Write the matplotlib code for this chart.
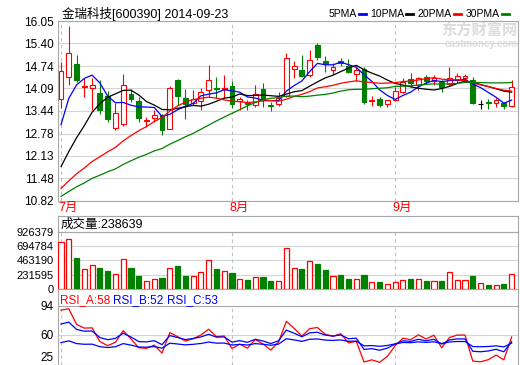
import numpy as np
import pandas as pd
import matplotlib
matplotlib.use("Agg")
import matplotlib.pyplot as plt
from matplotlib.lines import Line2D
from matplotlib.transforms import blended_transform_factory, ScaledTranslation

plt.rcParams['font.family'] = ['Liberation Sans', 'Noto Sans CJK SC']

# daily candles 2014-07-01 .. 2014-09-23
opens = [13.78, 14.43, 14.80, 14.13, 14.10, 13.95, 13.87, 12.93, 13.05, 13.93,
         13.72, 13.14, 13.22, 13.33, 12.91, 14.33, 13.82, 13.67, 13.72, 14.04,
         14.11, 14.08, 14.16, 13.72, 13.70, 13.60, 14.06, 13.61, 13.63, 13.88,
         14.65, 14.64, 14.48, 15.36, 14.88, 14.62, 14.88, 14.74, 14.51, 14.65,
         13.73, 13.78, 13.65, 13.75, 13.98, 14.36, 14.18, 14.41, 14.30, 14.28,
         14.22, 14.33, 14.38, 14.35, 13.63, 13.70, 13.67, 13.66, 13.58]
closes = [14.60, 15.11, 14.35, 14.15, 14.18, 13.46, 13.20, 13.39, 14.19, 13.77,
          13.22, 13.18, 13.33, 12.88, 14.09, 13.88, 13.65, 13.78, 13.98, 14.33,
          14.07, 14.10, 13.63, 13.78, 13.63, 13.92, 13.78, 13.57, 13.80, 14.98,
          14.74, 14.45, 14.92, 15.00, 14.79, 14.72, 14.83, 14.57, 14.62, 13.70,
          13.76, 13.61, 13.75, 14.03, 14.28, 14.24, 14.39, 14.30, 14.40, 14.12,
          14.38, 14.45, 14.45, 13.67, 13.63, 13.67, 13.75, 13.59, 14.12]
highs = [14.87, 15.90, 15.06, 14.40, 14.38, 14.33, 14.01, 13.67, 14.50, 14.07,
         13.85, 13.25, 13.46, 13.36, 14.16, 14.37, 14.06, 14.04, 14.09, 14.77,
         14.43, 14.48, 14.30, 13.85, 13.75, 14.19, 14.24, 13.70, 14.00, 15.13,
         14.90, 15.05, 15.22, 15.42, 15.04, 14.82, 14.97, 14.95, 14.72, 14.70,
         13.86, 13.85, 13.75, 14.12, 14.40, 14.55, 14.42, 14.48, 14.47, 14.33,
         14.70, 14.55, 14.52, 14.42, 13.75, 13.78, 13.82, 13.70, 14.33]
lows = [13.53, 14.19, 14.28, 13.85, 13.46, 13.36, 13.11, 12.88, 13.00, 13.70,
        13.12, 12.98, 13.12, 12.75, 12.90, 13.60, 13.20, 13.60, 13.46, 13.85,
        13.80, 13.82, 13.51, 13.46, 13.46, 13.56, 13.56, 13.44, 13.58, 13.85,
        14.40, 14.43, 14.43, 14.93, 14.57, 14.51, 14.75, 14.55, 14.30, 13.65,
        13.58, 13.56, 13.54, 13.74, 13.95, 14.14, 14.05, 14.23, 14.20, 13.99,
        14.16, 14.25, 14.28, 13.65, 13.50, 13.50, 13.55, 13.50, 13.56]
volumes = [766000, 809000, 511000, 330000, 394000, 335000, 288000, 250000, 489000, 335000,
           208000, 122000, 170000, 176000, 346000, 367000, 208000, 218000, 282000, 474000,
           319000, 288000, 255000, 170000, 144000, 202000, 192000, 128000, 138000, 665000,
           346000, 319000, 458000, 399000, 303000, 218000, 224000, 160000, 170000, 224000,
           106000, 112000, 75000, 112000, 154000, 160000, 170000, 128000, 128000, 128000,
           272000, 144000, 144000, 208000, 96000, 64000, 59000, 80000, 238639]
# June closes (not shown) - estimated so the averages / RSI start where the chart does
prior_closes = [10.80, 10.30, 10.75, 10.20, 10.70, 10.25, 10.85, 10.30, 10.60, 10.15,
                10.70, 10.25, 10.80, 10.35, 10.75, 10.30, 10.85, 10.40, 10.70, 10.40,
                10.75, 10.35, 10.60, 10.30, 11.00, 11.30, 12.40, 13.20, 13.70]

month_labels = ["7月", "8月", "9月"]
month_start = [0, 22, 43]

price_ticks = [10.82, 11.48, 12.13, 12.78, 13.44, 14.09, 14.74, 15.40, 16.05]
vol_ticks = [0, 231595, 463190, 694784, 926379]
rsi_ticks = [25, 60, 94]
rsi_last = [58, 52, 53]

ma_periods = [5, 10, 20, 30]
ma_colors = ["#0000FF", "#000000", "#FF0000", "#008000"]
rsi_periods = [6, 12, 24]
rsi_colors = ["#FF0000", "#0000FF", "#0000FF"]

RED = "#FF0000"
GREEN = "#008000"
GRID = "#D4D4D4"
FRAME = "#A8A8A8"

W, H = 520, 365
fig = plt.figure(figsize=(W / 100, H / 100), dpi=100)


def px_axes(l, t, r, b):
    return fig.add_axes([l / W, 1 - b / H, (r - l) / W, (b - t) / H])


def style(ax):
    for s in ax.spines.values():
        s.set_color(FRAME)
        s.set_linewidth(0.8)
    ax.set_xticks([])
    ax.tick_params(axis="y", length=0, pad=3, labelsize=8.5)
    ax.set_xlim(-0.39, 58.82)


x = np.arange(len(closes))
o = np.array(opens)
c = np.array(closes)
hi = np.array(highs)
lo = np.array(lows)
rise = c > o
fall = c < o
flat = c == o

# ---- price panel
ax = px_axes(58, 21, 518, 201)
style(ax)
ax.set_ylim(price_ticks[0], price_ticks[-1])
ax.set_yticks(price_ticks, labels=[f"{v:.2f}" for v in price_ticks])
ax.yaxis.grid(True, color=GRID, lw=0.8)
ax.set_axisbelow(True)
for m in month_start:
    ax.axvline(m, color="#C0C0C0", ls=(0, (3, 3)), lw=0.8, zorder=1)

wick_col = np.where(rise, RED, np.where(fall, GREEN, "black"))
ax.vlines(x, lo, hi, colors=wick_col, lw=0.8, zorder=2)
ax.bar(x[rise], (c - o)[rise], bottom=o[rise], width=0.62,
       facecolor="white", edgecolor=RED, lw=0.8, zorder=3)
ax.bar(x[fall], (o - c)[fall], bottom=c[fall], width=0.62,
       facecolor=GREEN, edgecolor=GREEN, lw=0.8, zorder=3)
ax.hlines(c[flat], x[flat] - 0.31, x[flat] + 0.31, colors="black", lw=0.8, zorder=3)

all_close = pd.Series(prior_closes + closes)
n0 = len(prior_closes)
for p, col in zip(ma_periods, ma_colors):
    ma = all_close.rolling(p).mean().to_numpy()[n0:]
    ax.plot(x, ma, color=col, lw=0.9, zorder=4)

tr = blended_transform_factory(ax.transData, ax.transAxes)
for m, lab in zip(month_start, month_labels):
    ax.text(m - 0.3, -0.04, lab, transform=tr, color=RED, fontsize=9,
            ha="left", va="center")

# ---- title / legend
fig.text(62 / W, 1 - 14 / H, "金瑞科技[600390] 2014-09-23", fontsize=9,
         ha="left", va="center")
dash_x = [359, 406, 454, 502]
for p, col, dx in zip(ma_periods, ma_colors, dash_x):
    fig.text((dx - 2) / W, 1 - 14 / H, f"{p}PMA", fontsize=7.5,
             ha="right", va="center")
    fig.add_artist(Line2D([dx / W, (dx + 7) / W], [1 - 14 / H, 1 - 14 / H],
                          color=col, lw=2))

# watermark
fig.text(517 / W, 1 - 30 / H, "东方财富网", fontsize=11, fontweight="bold",
         color="#DCDCDC", ha="right", va="center", zorder=0)
fig.text(517 / W, 1 - 44 / H, "eastmoney.com", fontsize=7, fontweight="bold",
         color="#DCDCDC", ha="right", va="center", zorder=0)

# ---- volume panel
axh = px_axes(58, 216, 518, 232)
for s in axh.spines.values():
    s.set_color(FRAME)
    s.set_linewidth(0.8)
axh.set_xticks([])
axh.set_yticks([])
axh.text(0.005, 0.45, f"成交量:{volumes[-1]}", fontsize=9, ha="left",
         va="center", transform=axh.transAxes)

axv = px_axes(58, 232, 518, 289)
style(axv)
axv.tick_params(axis="y", labelsize=8)
axv.set_ylim(vol_ticks[0], vol_ticks[-1])
axv.set_yticks(vol_ticks, labels=[str(v) for v in vol_ticks])
axv.yaxis.grid(True, color=GRID, lw=0.8)
axv.set_axisbelow(True)
for m in month_start:
    axv.axvline(m, color="#C0C0C0", ls=(0, (3, 3)), lw=0.8, zorder=1)
v = np.array(volumes)
vup = c >= o
axv.bar(x[vup], v[vup], width=0.66, facecolor="white", edgecolor=RED, lw=0.9, zorder=3)
axv.bar(x[~vup], v[~vup], width=0.66, facecolor=GREEN, edgecolor=GREEN, lw=0.9, zorder=3)

# ---- RSI panel
axr = px_axes(58, 305.5, 518, 364.5)
style(axr)
axr.set_ylim(rsi_ticks[0], rsi_ticks[-1])
axr.set_yticks(rsi_ticks, labels=[str(v) for v in rsi_ticks])
axr.axhline(60, color=GRID, lw=0.8, zorder=1)
for m in month_start:
    axr.axvline(m, color="#C0C0C0", ls=(0, (3, 3)), lw=0.8, zorder=1)
# lift the bottom label so it stays inside the picture
lab0 = axr.get_yticklabels()[0]
lab0.set_transform(lab0.get_transform() + ScaledTranslation(0, 5.5 / 72, fig.dpi_scale_trans))

diff = all_close.diff()
gain = diff.clip(lower=0)
for p, col in zip(rsi_periods, rsi_colors):
    rsi = (gain.ewm(alpha=1 / p, adjust=False).mean()
           / diff.abs().ewm(alpha=1 / p, adjust=False).mean() * 100)
    axr.plot(x, rsi.to_numpy()[n0:], color=col, lw=0.9, zorder=3)

rsi_names = ["RSI_A", "RSI_B", "RSI_C"]
rsi_x = [60, 113, 167]
for name, val, col, rx in zip(rsi_names, rsi_last, rsi_colors, rsi_x):
    fig.text(rx / W, 1 - 300 / H, f"{name}:{val}", fontsize=8.5, color=col,
             ha="left", va="center")

# frame continues through the gap above the RSI panel
fig.add_artist(Line2D([58 / W, 58 / W], [1 - 289 / H, 1 - 305.5 / H], color=FRAME, lw=0.8))
fig.add_artist(Line2D([518 / W, 518 / W], [1 - 289 / H, 1 - 305.5 / H], color=FRAME, lw=0.8))

fig.savefig("out.png", dpi=100)
